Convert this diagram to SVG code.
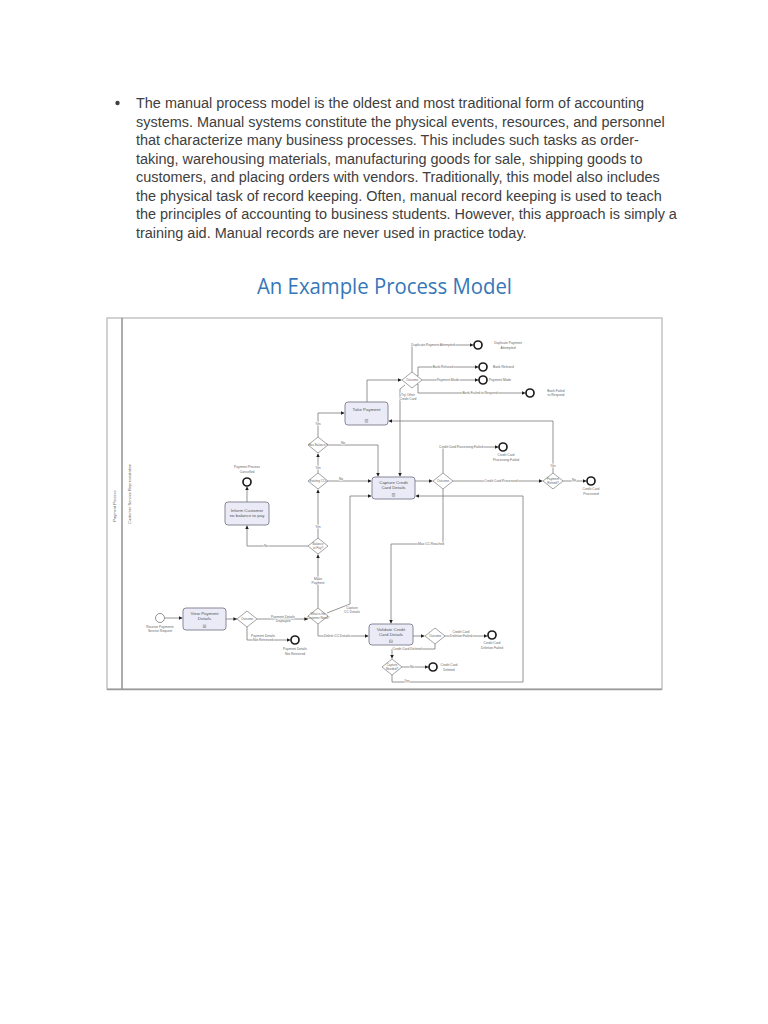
<svg xmlns="http://www.w3.org/2000/svg" width="768" height="1024" viewBox="0 0 768 1024">
<style>
.para{font-family:"Liberation Sans",Arial,sans-serif;font-size:14.45px;fill:#404040}
.title{font-family:"Open Sans","Liberation Sans",sans-serif;font-size:21px;fill:#3577b8}
.ln{fill:none;stroke:#7a7a7a;stroke-width:0.8}
.lb{font-family:"Liberation Sans",Arial,sans-serif;font-size:3.3px;fill:#666;text-anchor:middle;paint-order:stroke;stroke:#fff;stroke-width:1.2px}
.lbl{font-family:"Liberation Sans",Arial,sans-serif;font-size:3.3px;fill:#666}
.tk{font-family:"Liberation Sans",Arial,sans-serif;font-size:4.4px;fill:#555;text-anchor:middle}
.task rect.b{fill:#ebebf7;stroke:#7c7c8c;stroke-width:0.9}
.gw polygon{fill:#fff;stroke:#8a8a8a;stroke-width:0.8}
.gw text{font-family:"Liberation Sans",Arial,sans-serif;font-size:3px;fill:#666;text-anchor:middle}
.end circle{fill:#fff;stroke:#1e1e1e;stroke-width:1.7}
.start circle{fill:#fff;stroke:#777;stroke-width:0.8}
.lane{font-family:"Liberation Sans",Arial,sans-serif;font-size:4px;fill:#666;text-anchor:middle}
</style>
<defs>
<marker id="ar" viewBox="0 0 6 6" refX="6" refY="3" markerWidth="3.6" markerHeight="3.6" markerUnits="userSpaceOnUse" orient="auto">
<path d="M0,0 L6,3 L0,6 Z" fill="#1e1e1e"/>
</marker>
<g id="mk"><rect x="-1.4" y="0" width="2.8" height="2.8" fill="none" stroke="#777" stroke-width="0.4"/><path d="M-0.9,1.4 H0.9 M0,0.5 V2.3" fill="none" stroke="#777" stroke-width="0.35"/></g>
</defs>
<rect width="768" height="1024" fill="#fff"/>

<g id="paragraph">
<circle cx="117.5" cy="103" r="2.2" fill="#404040"/>
<text class="para" x="136" y="108">The manual process model is the oldest and most traditional form of accounting</text>
<text class="para" x="136" y="126.5">systems. Manual systems constitute the physical events, resources, and personnel</text>
<text class="para" x="136" y="145">that characterize many business processes. This includes such tasks as order-</text>
<text class="para" x="136" y="163.5">taking, warehousing materials, manufacturing goods for sale, shipping goods to</text>
<text class="para" x="136" y="182">customers, and placing orders with vendors. Traditionally, this model also includes</text>
<text class="para" x="136" y="200.5">the physical task of record keeping. Often, manual record keeping is used to teach</text>
<text class="para" x="136" y="219">the principles of accounting to business students. However, this approach is simply a</text>
<text class="para" x="136" y="237.5">training aid. Manual records are never used in practice today.</text>
</g>

<text id="title" class="title" x="257" y="294" textLength="255" lengthAdjust="spacingAndGlyphs">An  Example Process Model</text>

<g id="frame">
<rect x="107" y="318" width="555" height="371" fill="#fff" stroke="#b5b5b5" stroke-width="1.2"/>
<line x1="122" y1="318" x2="122" y2="689" stroke="#8a8a8a" stroke-width="1.4"/>
<line x1="107" y1="689.5" x2="662" y2="689.5" stroke="#9a9a9a" stroke-width="1.5"/>
<text class="lane" transform="translate(115.5,506) rotate(-90)">Payment Process</text>
<text class="lane" transform="translate(131,494) rotate(-90)">Customer Service Representative</text>
</g>

<g id="connectors">
<path class="ln" marker-end="url(#ar)" d="M165,618 H182.5"/>
<path class="ln" marker-end="url(#ar)" d="M226,619 H237"/>
<path class="ln" marker-end="url(#ar)" d="M257,619 H308"/>
<path class="ln" marker-end="url(#ar)" d="M247,627 V640 H290.5"/>
<path class="ln" marker-end="url(#ar)" d="M318,608 V554.5"/>
<path class="ln" marker-end="url(#ar)" d="M327,613 L350,604 V496 H371.5"/>
<path class="ln" marker-end="url(#ar)" d="M318,624 V636 H368.5"/>
<path class="ln" marker-end="url(#ar)" d="M308,546 H247 V525.5"/>
<path class="ln" marker-end="url(#ar)" d="M247,502 V486.5"/>
<path class="ln" marker-end="url(#ar)" d="M318,538 V489.5"/>
<path class="ln" marker-end="url(#ar)" d="M318,473 V453.5"/>
<path class="ln" marker-end="url(#ar)" d="M328,481 H371.5"/>
<path class="ln" marker-end="url(#ar)" d="M328,445 H378 V476.5"/>
<path class="ln" marker-end="url(#ar)" d="M318,437 V413 H344.5"/>
<path class="ln" marker-end="url(#ar)" d="M367,402 V380 H401.5"/>
<path class="ln" marker-end="url(#ar)" d="M412,372 V345 H473.5"/>
<path class="ln" marker-end="url(#ar)" d="M417,376 H418 V367 H478.5"/>
<path class="ln" marker-end="url(#ar)" d="M422,380 H478.5"/>
<path class="ln" marker-end="url(#ar)" d="M417,384 H418 V393 H525.5"/>
<path class="ln" marker-end="url(#ar)" d="M405,385 L400,389 V476.5"/>
<path class="ln" marker-end="url(#ar)" d="M553,473 V421 H388.5"/>
<path class="ln" marker-end="url(#ar)" d="M415,481 H432.5"/>
<path class="ln" marker-end="url(#ar)" d="M443,473 V447 H498.5"/>
<path class="ln" marker-end="url(#ar)" d="M453,481 H542.5"/>
<path class="ln" marker-end="url(#ar)" d="M563,481 H586.5"/>
<path class="ln" marker-end="url(#ar)" d="M443,489 V544 H391 V623.5"/>
<path class="ln" marker-end="url(#ar)" d="M413,636 H424.5"/>
<path class="ln" marker-end="url(#ar)" d="M445,636 H487.5"/>
<path class="ln" marker-end="url(#ar)" d="M435,644 V649 H392 V658.5"/>
<path class="ln" marker-end="url(#ar)" d="M402,667 H428.5"/>
<path class="ln" marker-end="url(#ar)" d="M392,675 V682 H523 V496 H415.5"/>

<text class="lb" x="283" y="617.5">Payment Details</text>
<text class="lb" x="283" y="621.5">Displayed</text>
<text class="lb" x="263" y="637">Payment Details</text>
<text class="lb" x="263" y="641">Not Retrieved</text>
<text class="lb" x="318" y="580">Make</text>
<text class="lb" x="318" y="584">Payment</text>
<text class="lb" x="352" y="609">Capture</text>
<text class="lb" x="352" y="613">CC Details</text>
<text class="lb" x="337" y="637">Delete CC Details</text>
<text class="lb" x="266" y="547">No</text>
<text class="lb" x="318" y="528">Yes</text>
<text class="lb" x="318" y="469">Yes</text>
<text class="lb" x="341" y="480">No</text>
<text class="lb" x="343" y="444">No</text>
<text class="lb" x="318" y="425">Yes</text>
<text class="lb" x="433" y="346">Duplicate Payment Attempted</text>
<text class="lb" x="443" y="368">Bank Refused</text>
<text class="lb" x="448" y="381">Payment Made</text>
<text class="lb" x="480" y="394">Bank Failed to Respond</text>
<text class="lb" x="408" y="396">Try Other</text>
<text class="lb" x="408" y="400">Credit Card</text>
<text class="lb" x="553" y="467">Yes</text>
<text class="lb" x="461" y="448">Credit Card Processing Failed</text>
<text class="lb" x="501" y="482">Credit Card Processed</text>
<text class="lb" x="574" y="481">No</text>
<text class="lb" x="431" y="545">Max CC Reached</text>
<text class="lb" x="461" y="632.5">Credit Card</text>
<text class="lb" x="461" y="636.5">Deletion Failed</text>
<text class="lb" x="407" y="650">Credit Card Deleted</text>
<text class="lb" x="412" y="668">No</text>
<text class="lb" x="407" y="682">Yes</text>
</g>

<g id="start" class="start"><circle cx="160" cy="618" r="4.5"/>
<text class="lb" x="160" y="628">Receive Payments</text><text class="lb" x="160" y="632">Service Request</text></g>

<g id="view-payment" class="task"><rect class="b" x="183" y="608" width="43" height="22" rx="3"/>
<text class="tk" x="204.5" y="615">View Payment</text><text class="tk" x="204.5" y="620">Details</text><use href="#mk" x="204.5" y="625"/></g>

<g id="inform-customer" class="task"><rect class="b" x="225" y="502" width="44" height="23" rx="3"/>
<text class="tk" x="247" y="512">Inform Customer</text><text class="tk" x="247" y="517">no balance to pay</text></g>

<g id="take-payment" class="task"><rect class="b" x="345" y="402" width="43" height="23" rx="3"/>
<text class="tk" x="366.5" y="411">Take Payment</text><use href="#mk" x="366.5" y="419.5"/></g>

<g id="capture-cc" class="task"><rect class="b" x="372" y="477" width="43" height="22" rx="3"/>
<text class="tk" x="393.5" y="483.5">Capture Credit</text><text class="tk" x="393.5" y="488.5">Card Details</text><use href="#mk" x="393.5" y="493.5"/></g>

<g id="validate-cc" class="task"><rect class="b" x="369" y="624" width="44" height="21" rx="3"/>
<text class="tk" x="391" y="630.5">Validate Credit</text><text class="tk" x="391" y="635.5">Card Details</text><use href="#mk" x="391" y="640"/></g>

<g id="gw-outcome0" class="gw"><polygon points="237,619 247,611 257,619 247,627"/><text x="247" y="620">Outcome</text></g>
<g id="gw-need" class="gw"><polygon points="308,616 318,608 328,616 318,624"/><text x="318" y="615">What is the</text><text x="318" y="618.5">Customer Need?</text></g>
<g id="gw-balance" class="gw"><polygon points="308,546 318,538 328,546 318,554"/><text x="318" y="545">Balance</text><text x="318" y="548.5">to Pay?</text></g>
<g id="gw-existing" class="gw"><polygon points="308,481 318,473 328,481 318,489"/><text x="318" y="482">Existing CCs</text></g>
<g id="gw-hasbalance" class="gw"><polygon points="308,445 318,437 328,445 318,453"/><text x="318" y="446">Has Balance?</text></g>
<g id="gw-outcome1" class="gw"><polygon points="402,380 412,372 422,380 412,388"/><text x="412" y="381">Outcome</text></g>
<g id="gw-outcome2" class="gw"><polygon points="433,481 443,473 453,481 443,489"/><text x="443" y="482">Outcome</text></g>
<g id="gw-retried" class="gw"><polygon points="543,481 553,473 563,481 553,489"/><text x="553" y="480">Payment</text><text x="553" y="483.5">Retried?</text></g>
<g id="gw-outcome3" class="gw"><polygon points="425,636 435,628 445,636 435,644"/><text x="435" y="637">Outcome</text></g>
<g id="gw-capture" class="gw"><polygon points="382,667 392,659 402,667 392,675"/><text x="392" y="666">Capture</text><text x="392" y="669.5">Needed?</text></g>

<g id="end-cancelled" class="end"><circle cx="247" cy="482" r="4"/><text class="lb" x="247" y="468">Payment Process</text><text class="lb" x="247" y="472.5">Cancelled</text></g>
<g id="end-not-retrieved" class="end"><circle cx="295" cy="640" r="4"/><text class="lb" x="295" y="650">Payment Details</text><text class="lb" x="295" y="654.5">Not Retrieved</text></g>
<g id="end-duplicate" class="end"><circle cx="478" cy="345" r="4"/><text class="lb" x="508" y="344">Duplicate Payment</text><text class="lb" x="508" y="348.5">Attempted</text></g>
<g id="end-refused" class="end"><circle cx="483" cy="367" r="4"/><text class="lbl" x="493" y="368">Bank Refused</text></g>
<g id="end-made" class="end"><circle cx="483" cy="380" r="4"/><text class="lbl" x="489" y="381">Payment Made</text></g>
<g id="end-failed" class="end"><circle cx="530" cy="393" r="4"/><text class="lb" x="556" y="391.5">Bank Failed</text><text class="lb" x="556" y="396">to Respond</text></g>
<g id="end-proc-failed" class="end"><circle cx="503" cy="447" r="4"/><text class="lb" x="506" y="456">Credit Card</text><text class="lb" x="506" y="460.5">Processing Failed</text></g>
<g id="end-processed" class="end"><circle cx="591" cy="481" r="4"/><text class="lb" x="591" y="490">Credit Card</text><text class="lb" x="591" y="494.5">Processed</text></g>
<g id="end-del-failed" class="end"><circle cx="492" cy="635" r="4"/><text class="lb" x="492" y="644">Credit Card</text><text class="lb" x="492" y="648.5">Deletion Failed</text></g>
<g id="end-deleted" class="end"><circle cx="433" cy="667" r="4"/><text class="lb" x="449" y="666">Credit Card</text><text class="lb" x="449" y="670.5">Deleted</text></g>
</svg>
